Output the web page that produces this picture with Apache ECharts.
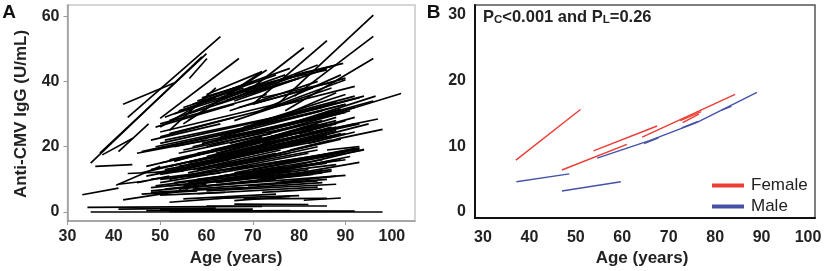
<!DOCTYPE html>
<html>
<head>
<meta charset="utf-8">
<script src="https://cdn.jsdelivr.net/npm/echarts@6/dist/echarts.min.js"></script>
<style>
  html, body { margin: 0; padding: 0; background: #fff; }
  #chart { width: 827px; height: 271px; }
</style>
</head>
<body>
<div id="chart"></div>
<script>
// tick labels
const ageTicks = [30, 40, 50, 60, 70, 80, 90, 100]
const ageTickMarksA = [30, 50, 70, 90]
const igTicksA = [0, 20, 40, 60]
const igTicksB = [0, 10, 20, 30]

// panel A: one segment per subject [ageStart, igStart, ageEnd, igEnd]
const subjectsA = [
  [35, 0, 98, 0], [34.3, 1.4, 72, 1.7], [41, 0.9, 62, 1.2], [47, 0.4, 92, 0.3],
  [50, 0.8, 70, 0.9], [60, 1.8, 86, 1.9], [66, 2.4, 82, 2.3], [52, 0.2, 78, 0.4],
  [33.2, 5.3, 41, 7.3], [40.5, 8.2, 50, 14], [41, 8.5, 47, 9.5], [43, 11.8, 55, 12.5],
  [42, 3.7, 56, 6.8], [52, 3, 66, 4.5], [55, 4, 75, 5.5], [62, 4.2, 80, 5],
  [66, 3.5, 78, 4.8], [68, 4, 86, 4.2], [72, 6, 85, 7.1], [81, 3.6, 89, 4.3],
  [58, 5.6, 84, 7.6], [48, 6, 68, 7.5], [50, 5.2, 64, 6], [46, 5.5, 58, 6.5],
  [60, 6.5, 88, 8.5],
  [48, 6.5, 75, 10], [48, 7.5, 80, 12], [49, 8, 86, 15], [50, 9, 90, 18.5],
  [48, 10, 70, 14], [47, 11, 65, 16], [50, 11.5, 78, 18], [52, 8, 74, 11],
  [54, 7, 85, 12], [56, 9, 88, 14.5], [49, 12, 60, 15], [48, 13, 72, 20],
  [46, 12, 58, 16], [45, 9, 52, 11], [52, 10, 84, 20], [55, 11, 93, 19.2],
  [58, 10, 90, 16], [60, 8, 90, 11.2], [62, 9, 87, 13], [64, 10, 80, 14.5],
  [66, 12, 93, 19.5], [68, 11, 88, 16], [70, 13, 94, 19], [53, 12.5, 80, 21],
  [57, 13, 76, 19], [60, 12, 82, 18], [62, 13.5, 89, 22.3], [51, 13, 68, 17.5],
  [54, 14, 86, 23], [56, 15, 80, 22], [47, 14, 62, 19], [50, 15, 73, 22],
  [52, 16, 78, 24], [58, 16, 88, 26], [60, 15, 85, 22], [63, 16, 86, 24],
  [65, 14, 84, 19], [70, 16, 88, 22.3], [74, 15, 93, 19.5], [76, 11, 93, 15.2],
  [80, 14.5, 94, 19.2], [88, 22.3, 98, 25.3],
  [50, 10, 63, 12], [51, 7, 60, 8.5], [53, 9, 64, 11], [55, 8, 82, 13],
  [57, 7, 86, 10], [59, 9, 78, 12.5], [61, 10.5, 85, 16], [63, 11, 77, 14],
  [64, 7, 85, 9], [67, 9, 83, 11.5], [69, 8, 84, 9.5], [71, 10, 85, 12.5],
  [73, 12, 89, 16], [75, 9, 88, 11], [77, 13, 91, 17], [79, 11, 87, 12.5],
  [81, 16, 90, 18.5], [83, 17, 92, 19.5], [86, 19, 93, 20],
  [52, 14, 70, 20], [53, 15.5, 72, 23], [54, 16, 66, 20], [55, 13, 77, 20],
  [56, 12, 70, 16], [57, 14, 82, 22], [58, 13, 75, 18], [59, 15, 78, 21],
  [60, 17, 74, 22], [61, 16, 80, 23], [62, 18, 84, 26], [63, 19, 79, 24],
  [64, 17, 88, 25], [65, 18, 81, 23.5], [66, 20, 84, 27], [67, 17, 89, 24],
  [68, 19, 87, 26], [69, 21, 88, 29], [70, 18, 86, 23.5], [71, 20, 92, 27],
  [72, 21, 89, 26], [73, 19, 90, 24], [74, 22, 92, 29], [75, 20, 88, 24.5],
  [77, 22, 93, 27], [78, 19, 87, 22], [80, 24, 90, 28], [82, 21, 92, 24.5],
  [84, 23, 95, 27], [85, 25, 97, 28.5],
  [45, 18, 60, 22], [46, 18.5, 70, 26], [48, 19, 68, 25], [49, 20, 82, 30],
  [50, 21, 72, 28], [51, 22, 85, 32], [48, 22, 63, 27], [50, 23, 66, 29],
  [52, 24, 80, 34], [50, 24.5, 75, 33], [53, 20, 78, 27], [55, 19, 85, 28],
  [54, 18, 74, 24], [56, 17, 88, 27], [57, 20, 90, 30.5], [58, 18, 83, 25],
  [59, 21, 80, 28], [60, 20, 92, 32], [61, 19, 86, 27], [62, 22, 88, 30],
  [63, 23, 85, 31], [64, 24, 90, 33], [65, 21, 82, 27], [66, 25, 93, 35],
  [67, 20, 85, 26], [68, 26, 88, 33.5], [69, 24, 86, 30], [70, 27, 90, 36],
  [71, 22, 88, 28], [72, 28, 92, 35.5], [73, 24, 91, 31], [75, 26, 89, 31.5],
  [76, 29, 94, 35.5], [78, 27, 96, 34], [80, 28, 96.5, 35.5], [84, 28.5, 102, 36.3],
  [82, 30, 90, 33],
  [49, 26, 66, 33], [50, 27, 73, 36], [51, 29, 62, 35], [52, 28, 70, 38],
  [53, 30, 75, 40], [54, 31, 72, 39], [55, 32, 68, 38], [56, 30, 80, 41],
  [57, 33, 75, 42], [58, 34, 70, 40], [59, 35, 66, 38], [60, 36, 72, 43],
  [62, 33, 82, 43], [63, 35, 77, 42], [64, 37, 78, 44], [65, 31, 84, 40],
  [66, 34, 86, 44], [67, 32, 83, 38], [68, 36, 80, 41], [69, 38, 88, 45],
  [70, 33, 90, 41], [72, 35, 88, 40], [74, 32, 92, 38.5], [55, 27, 73, 43.5],
  [56, 28, 72, 43], [50, 26, 61, 35], [52, 25, 62, 38], [70, 30, 89, 42],
  [72, 31, 90, 40.5], [74, 28, 88, 36.5], [66, 28, 87, 38], [64, 34, 84, 45],
  [75, 32.5, 96, 60.3], [79, 35.5, 96, 53.8], [77, 31, 96, 47], [68, 36, 81, 50.3],
  [70, 33, 86, 52.5], [79, 42, 89.5, 45.5], [76, 40.5, 86, 43.5],
  [35, 15, 59, 47.5], [37, 18, 60, 48.5], [43, 29, 63, 53.7], [42, 33, 53, 39.5],
  [41, 18.5, 47.5, 27], [37.5, 17.5, 44, 22.5], [36, 14, 44, 14.5],
  [56.3, 40.9, 60.1, 47], [50, 28.7, 67, 47]
]

// panel B: fitted segments by sex
const femaleSegs = [
  [37.1, 7.9, 51, 15.6], [47, 6.4, 61, 10.3], [53.8, 9.3, 67.5, 13.1],
  [64.3, 11.4, 84.3, 17.9], [72.5, 13.9, 77, 15.3], [73, 13.6, 76.5, 14.9]
]
const maleSegs = [
  [37.2, 4.6, 48.6, 5.8], [47, 3.2, 59.7, 4.6], [54.6, 8.2, 66, 10.9],
  [66, 10.9, 76, 13.6], [76, 13.6, 89, 18.2], [64.7, 10.4, 67.8, 11.3],
  [72.8, 12.8, 76.3, 13.8], [81.4, 15.5, 83.5, 16.1]
]

const FONT = 'Liberation Sans, Arial, sans-serif'
const toLines = segs => segs.map(s => ({ coords: [[s[0], s[1]], [s[2], s[3]]] }))

const chart = echarts.init(document.getElementById('chart'))
const labelStyle = { fontFamily: FONT, fontWeight: 'bold', fontSize: 16, color: '#222' }

const option = {
  animation: false,
  color: ['#ec3c35', '#4552a8'],
  grid: [
    { left: 67.5, top: 5, width: 347.5, height: 216, show: true, borderColor: '#c8c8c8', borderWidth: 1.5 },
    { left: 475, top: 5, width: 340, height: 213, show: true, borderColor: '#555', borderWidth: 1.5 }
  ],
  xAxis: [
    {
      gridIndex: 0, type: 'value', min: 30, max: 105,
      axisLine: { onZero: false, lineStyle: { color: '#999', width: 1.5 } },
      axisTick: { customValues: ageTickMarksA, length: 4, lineStyle: { color: '#999' } },
      axisLabel: Object.assign({ customValues: ageTicks, margin: 8 }, labelStyle),
      splitLine: { show: false }
    },
    {
      gridIndex: 1, type: 'value', min: 28.29, max: 101.5,
      axisLine: { onZero: false, lineStyle: { color: '#111', width: 2 } },
      axisTick: { show: false },
      axisLabel: Object.assign({ customValues: ageTicks, margin: 12 }, labelStyle),
      splitLine: { show: false }
    }
  ],
  yAxis: [
    {
      gridIndex: 0, type: 'value', min: -2.75, max: 63.4,
      axisLine: { show: true, onZero: false, lineStyle: { color: '#999', width: 1.5 } },
      axisTick: { show: true, customValues: igTicksA, length: 4, lineStyle: { color: '#999' } },
      axisLabel: Object.assign({ customValues: igTicksA, margin: 8 }, labelStyle),
      splitLine: { show: false }
    },
    {
      gridIndex: 1, type: 'value', min: -0.91, max: 31.52,
      axisLine: { show: true, onZero: false, lineStyle: { color: '#111', width: 2 } },
      axisTick: { show: false },
      axisLabel: Object.assign({ customValues: igTicksB, margin: 9 }, labelStyle),
      splitLine: { show: false }
    }
  ],
  legend: {
    data: ['Female', 'Male'],
    orient: 'vertical',
    left: 712, top: 177,
    padding: 0,
    itemGap: 4,
    itemWidth: 30, itemHeight: 2,
    icon: 'rect',
    textStyle: { fontFamily: FONT, fontSize: 17, color: '#222', padding: [0, 0, 0, 3] }
  },
  series: [
    {
      name: 'Female', type: 'lines', coordinateSystem: 'cartesian2d',
      xAxisIndex: 1, yAxisIndex: 1,
      itemStyle: { color: '#ec3c35' },
      lineStyle: { color: '#ec3c35', width: 1.4, opacity: 1 },
      data: toLines(femaleSegs)
    },
    {
      name: 'Male', type: 'lines', coordinateSystem: 'cartesian2d',
      xAxisIndex: 1, yAxisIndex: 1,
      itemStyle: { color: '#4552a8' },
      lineStyle: { color: '#4552a8', width: 1.4, opacity: 1 },
      data: toLines(maleSegs)
    },
    {
      name: 'subjects', type: 'lines', coordinateSystem: 'cartesian2d',
      xAxisIndex: 0, yAxisIndex: 0,
      lineStyle: { color: '#000', width: 1.7, opacity: 1 },
      data: toLines(subjectsA)
    }
  ],
  graphic: [
    { type: 'text', x: 9, y: 12.5, style: { text: 'A', font: 'bold 19px ' + FONT, fill: '#111', align: 'center', verticalAlign: 'middle' } },
    { type: 'text', x: 433.5, y: 12.5, style: { text: 'B', font: 'bold 19px ' + FONT, fill: '#111', align: 'center', verticalAlign: 'middle' } },
    { type: 'text', x: 21, y: 114, rotation: Math.PI / 2, style: { text: 'Anti-CMV IgG (U/mL)', font: 'bold 17px ' + FONT, fill: '#222', align: 'center', verticalAlign: 'middle' } },
    { type: 'text', x: 236, y: 258, style: { text: 'Age (years)', font: 'bold 17px ' + FONT, fill: '#222', align: 'center', verticalAlign: 'middle' } },
    { type: 'text', x: 642, y: 258, style: { text: 'Age (years)', font: 'bold 17px ' + FONT, fill: '#222', align: 'center', verticalAlign: 'middle' } },
    {
      type: 'text', x: 483, y: 17,
      style: {
        text: '{a|P}{b|C}{a|<0.001 and P}{b|L}{a|=0.26}',
        verticalAlign: 'middle',
        rich: {
          a: { fontFamily: FONT, fontWeight: 'bold', fontSize: 16.5, fill: '#222', color: '#222' },
          b: { fontFamily: FONT, fontWeight: 'bold', fontSize: 11.5, fill: '#222', color: '#222', padding: [5, 0, 0, 0] }
        }
      }
    }
  ]
}

chart.setOption(option)
</script>
</body>
</html>
